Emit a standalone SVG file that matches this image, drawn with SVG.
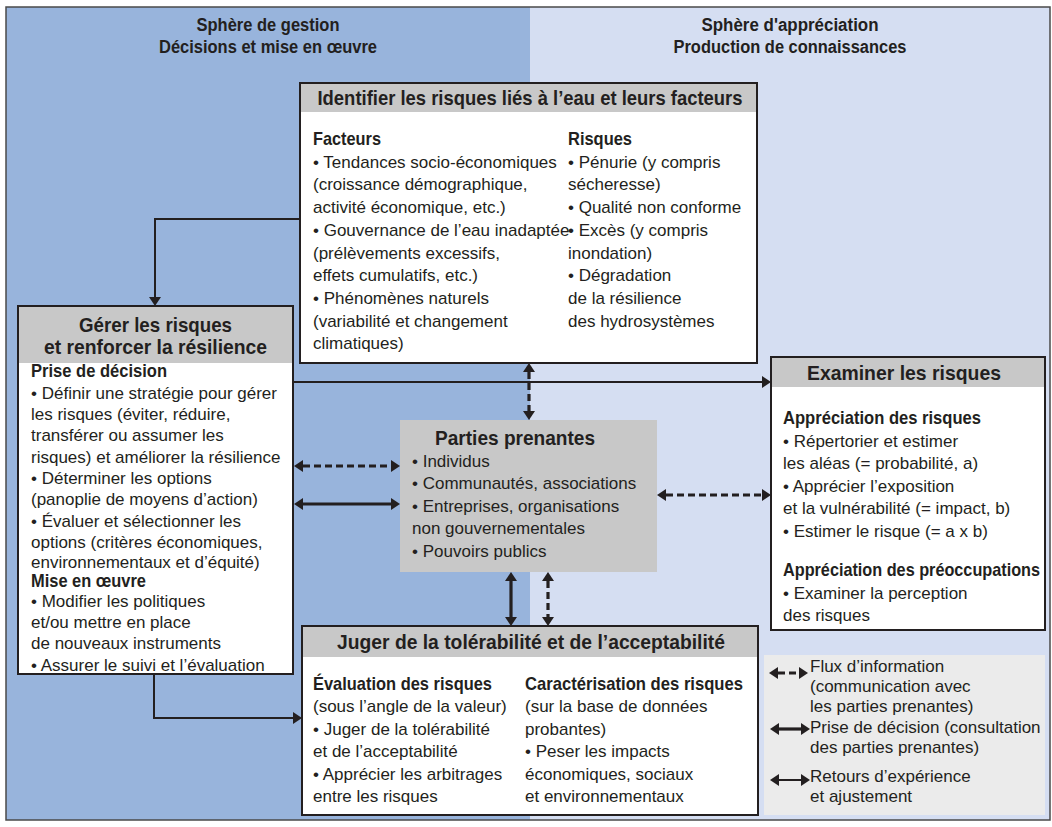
<svg xmlns="http://www.w3.org/2000/svg" width="1052" height="827" viewBox="0 0 1052 827">
<defs>
<style>
text{font-family:"Liberation Sans",Arial,sans-serif;fill:#231f20}
.t{font-size:17px}
.b{font-weight:bold;font-size:19px}
.h{font-weight:bold;font-size:21px;text-anchor:middle}
.sh{font-weight:bold;font-size:18px;text-anchor:middle}
.box{fill:#fff}
.hdr{fill:#c8c8c8}
.bd{fill:none;stroke:#231f20;stroke-width:2}
.thin{fill:none;stroke:#231f20;stroke-width:2}
.thick{fill:none;stroke:#231f20;stroke-width:3.2}
.dash{fill:none;stroke:#231f20;stroke-width:3.2;stroke-dasharray:7 4}
</style>
<marker id="ah" viewBox="0 0 9 12" markerUnits="userSpaceOnUse" markerWidth="9" markerHeight="12" refX="0" refY="6" orient="auto-start-reverse">
<path d="M0,0 L9,6 L0,12 z" fill="#231f20"/>
</marker>
</defs>

<g id="background">
<rect x="6" y="7" width="524" height="813" fill="#98b4dc"/>
<rect x="530" y="7" width="520" height="813" fill="#d5def2"/>
<rect x="6" y="7" width="1044" height="813" fill="none" stroke="#4a4a4a" stroke-width="1.5"/>
<text class="sh" x="268" y="31" textLength="143" lengthAdjust="spacingAndGlyphs">Sphère de gestion</text>
<text class="sh" x="268" y="53" textLength="218" lengthAdjust="spacingAndGlyphs">Décisions et mise en œuvre</text>
<text class="sh" x="790" y="31" textLength="177" lengthAdjust="spacingAndGlyphs">Sphère d'appréciation</text>
<text class="sh" x="790" y="53" textLength="233" lengthAdjust="spacingAndGlyphs">Production de connaissances</text>
</g>

<g id="connectors">
<path class="thin" d="M300,219 H155 V297" marker-end="url(#ah)"/>
<path class="thin" d="M154,674 V718 H293" marker-end="url(#ah)"/>
<path class="thin" d="M293,382 H762" marker-end="url(#ah)"/>
<path class="dash" d="M529,372 V411" marker-start="url(#ah)" marker-end="url(#ah)"/>
<path class="dash" d="M303,466 H391" marker-start="url(#ah)" marker-end="url(#ah)"/>
<path class="thick" d="M303,504 H391" marker-start="url(#ah)" marker-end="url(#ah)"/>
<path class="dash" d="M666,495 H762" marker-start="url(#ah)" marker-end="url(#ah)"/>
<path class="thick" d="M511,581 V617" marker-start="url(#ah)" marker-end="url(#ah)"/>
<path class="dash" d="M548,581 V617" marker-start="url(#ah)" marker-end="url(#ah)"/>
</g>

<g id="identifier">
<rect class="box" x="300" y="83" width="457" height="280"/>
<rect class="hdr" x="300" y="83" width="457" height="29"/>
<text class="h" x="530" y="105" textLength="425" lengthAdjust="spacingAndGlyphs">Identifier les risques liés à l’eau et leurs facteurs</text>
<text class="b" x="313" y="145" textLength="68" lengthAdjust="spacingAndGlyphs">Facteurs</text>
<text class="t" x="313" y="167.7">• Tendances socio-économiques</text>
<text class="t" x="313" y="190.4">(croissance démographique,</text>
<text class="t" x="313" y="213.1">activité économique, etc.)</text>
<text class="t" x="313" y="235.8">• Gouvernance de l’eau inadaptée</text>
<text class="t" x="313" y="258.5">(prélèvements excessifs,</text>
<text class="t" x="313" y="281.2">effets cumulatifs, etc.)</text>
<text class="t" x="313" y="303.9">• Phénomènes naturels</text>
<text class="t" x="313" y="326.6">(variabilité et changement</text>
<text class="t" x="313" y="349.3">climatiques)</text>
<text class="b" x="568" y="145" textLength="64" lengthAdjust="spacingAndGlyphs">Risques</text>
<text class="t" x="568" y="167.7">• Pénurie (y compris</text>
<text class="t" x="568" y="190.4">sécheresse)</text>
<text class="t" x="568" y="213.1">• Qualité non conforme</text>
<text class="t" x="568" y="235.8">• Excès (y compris</text>
<text class="t" x="568" y="258.5">inondation)</text>
<text class="t" x="568" y="281.2">• Dégradation</text>
<text class="t" x="568" y="303.9">de la résilience</text>
<text class="t" x="568" y="326.6">des hydrosystèmes</text>
<rect class="bd" x="300" y="83" width="457" height="280"/>
</g>

<g id="gerer">
<rect class="box" x="18" y="306" width="275" height="368"/>
<rect class="hdr" x="18" y="306" width="275" height="57"/>
<text class="h" x="155.5" y="332" textLength="153" lengthAdjust="spacingAndGlyphs">Gérer les risques</text>
<text class="h" x="155.5" y="354" textLength="223" lengthAdjust="spacingAndGlyphs">et renforcer la résilience</text>
<text class="b" x="31" y="377" textLength="136" lengthAdjust="spacingAndGlyphs">Prise de décision</text>
<text class="t" x="31" y="399">• Définir une stratégie pour gérer</text>
<text class="t" x="31" y="420">les risques (éviter, réduire,</text>
<text class="t" x="31" y="441">transférer ou assumer les</text>
<text class="t" x="31" y="463">risques) et améliorer la résilience</text>
<text class="t" x="31" y="484">• Déterminer les options</text>
<text class="t" x="31" y="505">(panoplie de moyens d’action)</text>
<text class="t" x="31" y="527">• Évaluer et sélectionner les</text>
<text class="t" x="31" y="548">options (critères économiques,</text>
<text class="t" x="31" y="568">environnementaux et d’équité)</text>
<text class="b" x="31" y="587" textLength="115" lengthAdjust="spacingAndGlyphs">Mise en œuvre</text>
<text class="t" x="31" y="607">• Modifier les politiques</text>
<text class="t" x="31" y="628">et/ou mettre en place</text>
<text class="t" x="31" y="649">de nouveaux instruments</text>
<text class="t" x="31" y="671">• Assurer le suivi et l’évaluation</text>
<rect class="bd" x="18" y="306" width="275" height="368"/>
</g>

<g id="examiner">
<rect class="box" x="771" y="357" width="274" height="273"/>
<rect class="hdr" x="771" y="357" width="274" height="30"/>
<text class="h" x="904" y="380" textLength="194" lengthAdjust="spacingAndGlyphs">Examiner les risques</text>
<text class="b" x="783" y="424" textLength="198" lengthAdjust="spacingAndGlyphs">Appréciation des risques</text>
<text class="t" x="783" y="447">• Répertorier et estimer</text>
<text class="t" x="783" y="469">les aléas (= probabilité, a)</text>
<text class="t" x="783" y="492">• Apprécier l’exposition</text>
<text class="t" x="783" y="514">et la vulnérabilité (= impact, b)</text>
<text class="t" x="783" y="537">• Estimer le risque (= a x b)</text>
<text class="b" x="783" y="576" textLength="257" lengthAdjust="spacingAndGlyphs">Appréciation des préoccupations</text>
<text class="t" x="783" y="599">• Examiner la perception</text>
<text class="t" x="783" y="621">des risques</text>
<rect class="bd" x="771" y="357" width="274" height="273"/>
</g>

<g id="parties">
<rect class="hdr" x="400" y="420" width="257" height="152"/>
<text class="h" x="515" y="445" textLength="160" lengthAdjust="spacingAndGlyphs">Parties prenantes</text>
<text class="t" x="412" y="467">• Individus</text>
<text class="t" x="412" y="489">• Communautés, associations</text>
<text class="t" x="412" y="512">• Entreprises, organisations</text>
<text class="t" x="412" y="534">non gouvernementales</text>
<text class="t" x="412" y="557">• Pouvoirs publics</text>
</g>

<g id="juger">
<rect class="box" x="302" y="626" width="456" height="189"/>
<rect class="hdr" x="302" y="626" width="456" height="31"/>
<text class="h" x="531" y="649" textLength="388" lengthAdjust="spacingAndGlyphs">Juger de la tolérabilité et de l’acceptabilité</text>
<text class="b" x="313" y="690" textLength="179" lengthAdjust="spacingAndGlyphs">Évaluation des risques</text>
<text class="t" x="313" y="712">(sous l’angle de la valeur)</text>
<text class="t" x="313" y="735">• Juger de la tolérabilité</text>
<text class="t" x="313" y="757">et de l’acceptabilité</text>
<text class="t" x="313" y="780">• Apprécier les arbitrages</text>
<text class="t" x="313" y="802">entre les risques</text>
<text class="b" x="525" y="690" textLength="218" lengthAdjust="spacingAndGlyphs">Caractérisation des risques</text>
<text class="t" x="525" y="712">(sur la base de données</text>
<text class="t" x="525" y="735">probantes)</text>
<text class="t" x="525" y="757">• Peser les impacts</text>
<text class="t" x="525" y="780">économiques, sociaux</text>
<text class="t" x="525" y="802">et environnementaux</text>
<rect class="bd" x="302" y="626" width="456" height="189"/>
</g>

<g id="legend">
<rect x="764" y="655" width="281" height="160" fill="#ebebeb"/>
<path class="dash" d="M778,673 H799" marker-start="url(#ah)" marker-end="url(#ah)"/>
<path class="thick" d="M779,729 H801" marker-start="url(#ah)" marker-end="url(#ah)"/>
<path class="thin" d="M779,780 H801" marker-start="url(#ah)" marker-end="url(#ah)"/>
<text class="t" x="810" y="672">Flux d’information</text>
<text class="t" x="810" y="692">(communication avec</text>
<text class="t" x="810" y="712">les parties prenantes)</text>
<text class="t" x="810" y="733">Prise de décision (consultation</text>
<text class="t" x="810" y="753">des parties prenantes)</text>
<text class="t" x="810" y="782">Retours d’expérience</text>
<text class="t" x="810" y="802">et ajustement</text>
</g>
</svg>
